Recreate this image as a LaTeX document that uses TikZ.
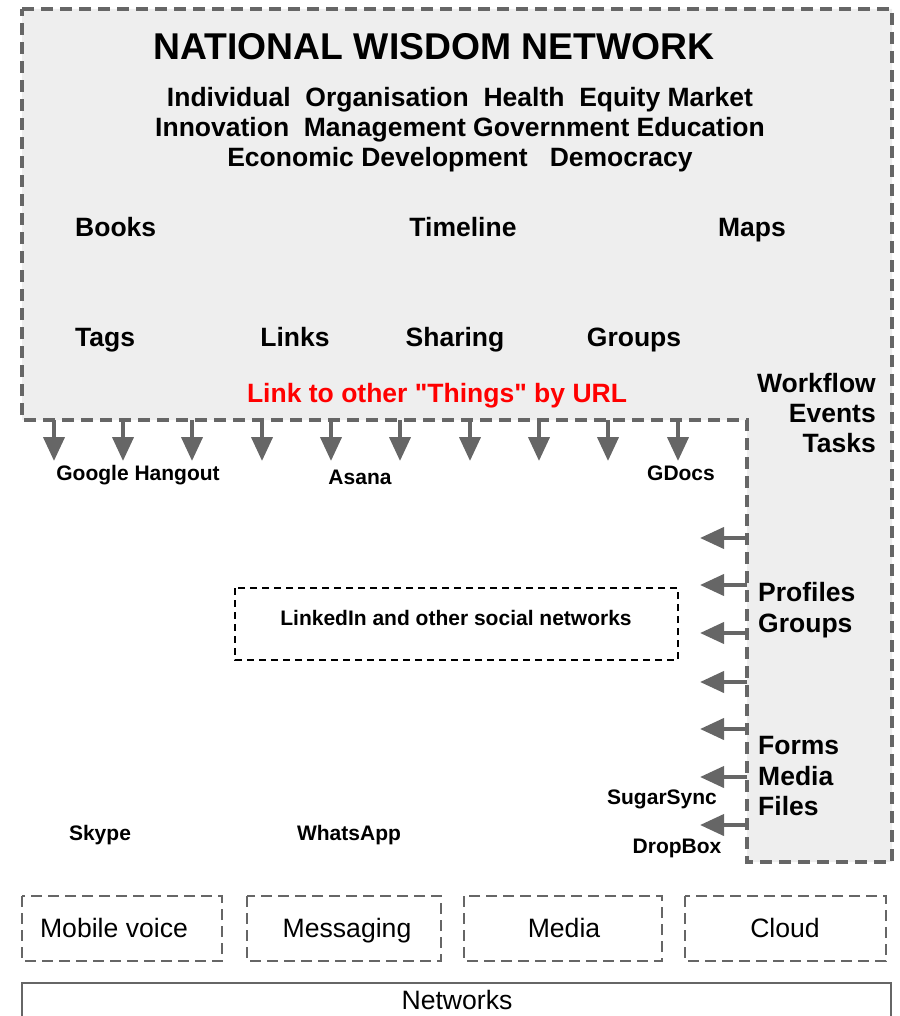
\documentclass[tikz,border=0pt]{standalone}
\usepackage{fontspec}
\setmainfont{Liberation Sans}[Ligatures=TeXOff]
\usepackage{tikz}
\usetikzlibrary{arrows.meta, positioning}

\definecolor{wgray}{HTML}{666666}
\definecolor{wfill}{HTML}{EEEEEE}

\tikzset{
	bigtxt/.style = {font=\fontsize{26.5}{30.5}\selectfont\bfseries, inner sep=0pt},
	smalltxt/.style = {font=\fontsize{21}{24}\selectfont\bfseries, inner sep=0pt, anchor=base},
	plaintxt/.style = {font=\fontsize{26.6}{30}\selectfont, inner sep=0pt, anchor=base},
	link/.style = {draw=wgray, line width=4pt, -{Triangle[width=21pt,length=24pt]}},
	layerbox/.style = {draw=wgray, line width=1.5pt, dash pattern=on 11pt off 6pt}
}

\begin{document}
\begin{tikzpicture}[x=1pt, y=-1pt]
			\clip (0,0) rectangle (899,1016);
			\useasboundingbox (0,0) rectangle (899,1016);

			% wisdom network area
			\draw[fill=wfill, draw=wgray, line width=4pt, dash pattern=on 12pt off 7pt]
				(22,9) -- (892,9) -- (892,862) -- (747,862) -- (747,420) -- (22,420) -- cycle;

			\node[font=\fontsize{37.3}{40}\selectfont\bfseries, inner sep=0pt, anchor=base] (title) at (434,60) {NATIONAL WISDOM NETWORK};
			\node[bigtxt, anchor=base] (topic1) at (460,106.7) {Individual~ Organisation~ Health~ Equity Market};
			\node[bigtxt, anchor=base] (topic2) at (460,136.7) {Innovation~ Management Government Education};
			\node[bigtxt, anchor=base] (topic3) at (460,166.7) {Economic Development~~ Democracy};

			\node[bigtxt, anchor=base west] (books) at (75,236.7) {Books};
			\node[bigtxt, anchor=base] (timeline) at (463,236.7) {Timeline};
			\node[bigtxt, anchor=base] (maps) at (752,236.7) {Maps};

			\node[bigtxt, anchor=base west] (tags) at (75,346.7) {Tags};
			\node[bigtxt, anchor=base] (links) at (295,346.7) {Links};
			\node[bigtxt, anchor=base] (sharing) at (455,346.7) {Sharing};
			\node[bigtxt, anchor=base] (groups) at (634,346.7) {Groups};

			\node[bigtxt, anchor=base, text=red] (url) at (437,402.3) {Link to other "Things" by URL};

			\node[bigtxt, anchor=base east] (workflow) at (876,392.3) {Workflow};
			\node[bigtxt, anchor=base east] (events) at (876,422.3) {Events};
			\node[bigtxt, anchor=base east] (tasks) at (876,452.3) {Tasks};
			\node[bigtxt, anchor=base west] (profiles) at (758,601) {Profiles};
			\node[bigtxt, anchor=base west] (pgroups) at (758,632) {Groups};
			\node[bigtxt, anchor=base west] (forms) at (758,754) {Forms};
			\node[bigtxt, anchor=base west] (media) at (758,785) {Media};
			\node[bigtxt, anchor=base west] (files) at (758,815.5) {Files};

			% arrows out of the network
			\coordinate (d1) at (54,420);   \coordinate (t1) at (54,461);
			\coordinate (d2) at (123,420);  \coordinate (t2) at (123,461);
			\coordinate (d3) at (192,420);  \coordinate (t3) at (192,461);
			\coordinate (d4) at (262,420);  \coordinate (t4) at (262,461);
			\coordinate (d5) at (331,420);  \coordinate (t5) at (331,461);
			\coordinate (d6) at (400,420);  \coordinate (t6) at (400,461);
			\coordinate (d7) at (470,420);  \coordinate (t7) at (470,461);
			\coordinate (d8) at (539,420);  \coordinate (t8) at (539,461);
			\coordinate (d9) at (608,420);  \coordinate (t9) at (608,461);
			\coordinate (d10) at (678,420); \coordinate (t10) at (678,461);

			\coordinate (r1) at (747,538);  \coordinate (l1) at (700,538);
			\coordinate (r2) at (747,585);  \coordinate (l2) at (700,585);
			\coordinate (r3) at (747,633);  \coordinate (l3) at (700,633);
			\coordinate (r4) at (747,682);  \coordinate (l4) at (700,682);
			\coordinate (r5) at (747,729);  \coordinate (l5) at (700,729);
			\coordinate (r6) at (747,777);  \coordinate (l6) at (700,777);
			\coordinate (r7) at (747,825);  \coordinate (l7) at (700,825);

			\path[every edge/.style={link}]
				(d1) edge (t1)  (d2) edge (t2)  (d3) edge (t3)  (d4) edge (t4)  (d5) edge (t5)
				(d6) edge (t6)  (d7) edge (t7)  (d8) edge (t8)  (d9) edge (t9)  (d10) edge (t10);
			\path[every edge/.style={link}]
				(r1) edge (l1)  (r2) edge (l2)  (r3) edge (l3)  (r4) edge (l4)
				(r5) edge (l5)  (r6) edge (l6)  (r7) edge (l7);

			% other things
			\node[smalltxt] (hangout) at (138,480) {Google Hangout};
			\node[smalltxt] (asana) at (360,484) {Asana};
			\node[smalltxt] (gdocs) at (681,480.5) {GDocs};
			\node[smalltxt] (sugarsync) at (662,804) {SugarSync};
			\node[smalltxt] (dropbox) at (677,853) {DropBox};
			\node[smalltxt] (skype) at (100,840) {Skype};
			\node[smalltxt] (whatsapp) at (349,840) {WhatsApp};

			\draw[line width=1.5pt, dash pattern=on 7pt off 5pt] (235,588) rectangle (678,660);
			\node[smalltxt] (linkedin) at (456,625) {LinkedIn and other social networks};

			% layers
			\draw[layerbox] (22,896) rectangle (222,961);
			\draw[layerbox] (247,896) rectangle (441,961);
			\draw[layerbox] (464,896) rectangle (662,961);
			\draw[layerbox] (685,896) rectangle (886,961);
			\node[plaintxt] (voice) at (114,937) {Mobile voice};
			\node[plaintxt] (messaging) at (347,937) {Messaging};
			\node[plaintxt] (media) at (564,937) {Media};
			\node[plaintxt] (cloud) at (785,937) {Cloud};

			\draw[draw=wgray, line width=1.5pt] (22,1030) -- (22,983) -- (891,983) -- (891,1030);
			\node[plaintxt] (networks) at (457,1009) {Networks};
		\end{tikzpicture}
\end{document}
